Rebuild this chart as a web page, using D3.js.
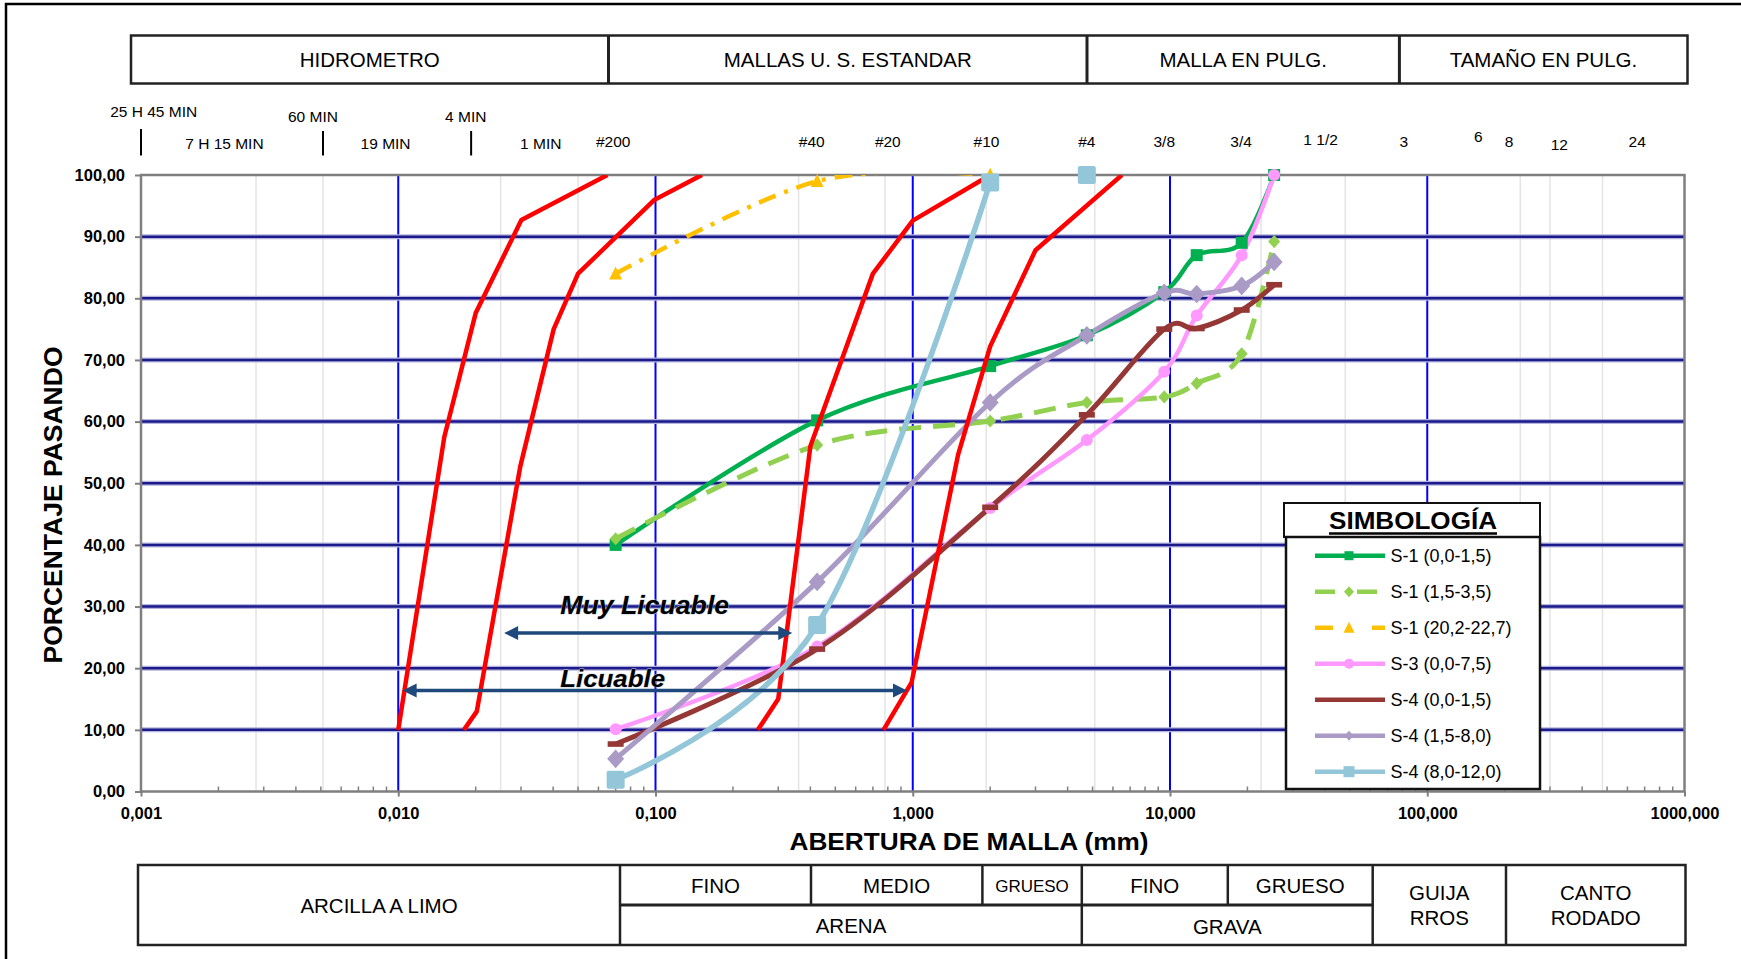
<!DOCTYPE html>
<html>
<head>
<meta charset="utf-8">
<script src="https://cdn.jsdelivr.net/npm/d3@7"></script>
<style>
  body { margin: 0; background: #fff; }
  svg { display: block; }
  text { font-family: "Liberation Sans", Arial, sans-serif; fill: #000; }
</style>
</head>
<body>
<svg id="chart" width="1741" height="959"></svg>
<script>
// ---------- sieve analysis data (percent passing) ----------
const sieveMm   = [0.07, 0.425, 2.0, 4.75, 9.5, 12.7, 19.0, 25.4];
const s1Top     = [40.0, 60.2, 69.0, 74.0, 81.0, 87.0, 89.0, 100.0];
const s1Mid     = [41.0, 56.2, 60.1, 63.1, 64.0, 66.2, 71.0, 89.2];
const s1Deep    = [84.0, 99.0, 100.0, null, null, null, null, null];
const s3Top     = [10.1, 23.5, 46.0, 57.0, 68.1, 77.2, 87.0, 100.0];
const s4Top     = [7.7, 23.1, 46.1, 61.1, 75.0, 75.1, 78.1, 82.2];
const s4Mid     = [5.3, 34.0, 63.1, 74.0, 80.9, 80.7, 82.0, 85.9];
const s4Deep    = [1.9, 27.0, 98.8, 100.0, null, null, null, null];
const seriesNames = ["S-1 (0,0-1,5)", "S-1 (1,5-3,5)", "S-1 (20,2-22,7)", "S-3 (0,0-7,5)",
                     "S-4 (0,0-1,5)", "S-4 (1,5-8,0)", "S-4 (8,0-12,0)"];

// ---------- liquefaction boundary curves ----------
const licFineMm       = [0.0100, 0.0151, 0.0200, 0.0301, 0.065];
const licFinePct      = [10, 57.5, 77.6, 92.7, 100];
const muyFineMm       = [0.018, 0.0202, 0.0298, 0.0402, 0.050, 0.0992, 0.1515];
const muyFinePct      = [10, 13, 52.7, 75, 84, 96, 100];
const muyCoarseMm     = [0.25, 0.30, 0.40, 0.70, 1.0, 2.0];
const muyCoarsePct    = [10, 15, 56, 84, 92.6, 100];
const licCoarseMm     = [0.77, 0.99, 1.5, 2.0, 3.0, 6.5];
const licCoarsePct    = [10, 17.7, 54.6, 72.2, 87.8, 100];

// ranges marked with arrows
const rangeLabels  = ["Muy Licuable", "Licuable"];
const rangeFromMm  = [0.0258, 0.0104];
const rangeToMm    = [0.34, 0.95];
const rangePct     = [25.7, 16.4];
const rangeTextMm  = [0.0426, 0.0426];
const rangeTextPct = [28.8, 17.0];

// ---------- axis / header labels ----------
const yTicks = [0, 10, 20, 30, 40, 50, 60, 70, 80, 90, 100];
const xTicks = [0.001, 0.01, 0.1, 1, 10, 100, 1000];
const headerLabels = ["HIDROMETRO", "MALLAS U. S. ESTANDAR", "MALLA EN PULG.", "TAMAÑO EN PULG."];
const hydroUpper = ["25 H 45 MIN", "60 MIN", "4 MIN"];
const hydroUpperMm = [0.00112, 0.00466, 0.0183];
const hydroLower = ["7 H 15 MIN", "19 MIN", "1 MIN"];
const hydroLowerMm = [0.00211, 0.00893, 0.0358];
const hydroMarkMm = [0.001, 0.0051, 0.0192];
const sieveLabels = ["#200", "#40", "#20", "#10", "#4", "3/8", "3/4", "1 1/2", "3", "6", "8", "12", "24"];
const sieveLabelMm = [0.0685, 0.405, 0.80, 1.936, 4.75, 9.5, 18.9, 38.5, 81, 158, 208, 326, 655];
const faintLineMm = [0.0028, 0.0051, 0.025, 0.050, 0.36, 0.78, 1.93, 5.1, 22.6, 48, 230, 300, 480];

// ---------- layout ----------
const svg = d3.select("#chart");
const plot = { left: 141, right: 1684.5, top: 175, bottom: 791.5 };
const x = d3.scaleLog().domain([0.001, 1000]).range([plot.left, plot.right]);
const y = d3.scaleLinear().domain([0, 100]).range([plot.bottom, plot.top]);
const comma = s => s.replace(".", ",");

// outer frame
svg.append("path").attr("d", "M6,1000 V4 H1800").attr("fill", "none")
   .attr("stroke", "#000").attr("stroke-width", 2.5);

// header band
const headerEdges = [131, 608.5, 1087, 1399.4, 1687.5];
const hdr = svg.append("g");
hdr.append("rect").attr("x", 131).attr("y", 35.5).attr("width", 1687.5 - 131).attr("height", 48)
   .attr("fill", "none").attr("stroke", "#222").attr("stroke-width", 2.5);
headerEdges.slice(1, -1).forEach(e => hdr.append("line").attr("x1", e).attr("x2", e)
   .attr("y1", 35.5).attr("y2", 83.5).attr("stroke", "#222").attr("stroke-width", 3));
headerLabels.forEach((t, i) => hdr.append("text")
   .attr("x", (headerEdges[i] + headerEdges[i + 1]) / 2).attr("y", 67)
   .attr("text-anchor", "middle").attr("font-size", 20.5).text(t));

// hydrometer / sieve reference labels above the plot
const refLabels = svg.append("g").attr("font-size", 15.5);
hydroUpper.forEach((t, i) => refLabels.append("text").attr("x", x(hydroUpperMm[i]))
   .attr("y", i === 0 ? 117 : 121.5).attr("text-anchor", "middle").text(t));
hydroLower.forEach((t, i) => refLabels.append("text").attr("x", x(hydroLowerMm[i]))
   .attr("y", 148.5).attr("text-anchor", "middle").text(t));
hydroMarkMm.forEach((d, i) => refLabels.append("line").attr("x1", x(d)).attr("x2", x(d))
   .attr("y1", i === 0 ? 129 : 131).attr("y2", 155.5).attr("stroke", "#000").attr("stroke-width", 2));
sieveLabels.forEach((t, i) => refLabels.append("text").attr("x", x(sieveLabelMm[i]))
   .attr("y", t === "6" ? 141.5 : t === "12" ? 149.5 : t === "1 1/2" ? 145 : 146.5)
   .attr("text-anchor", "middle").text(t));

// ---------- grid ----------
const grid = svg.append("g");
grid.append("rect").attr("x", plot.left).attr("y", plot.top)
    .attr("width", plot.right - plot.left).attr("height", plot.bottom - plot.top).attr("fill", "#fff");
faintLineMm.forEach(d => grid.append("line").attr("x1", x(d)).attr("x2", x(d))
    .attr("y1", plot.top).attr("y2", plot.bottom).attr("stroke", "#e4e4e4").attr("stroke-width", 1.5));
xTicks.slice(1, -1).forEach(d => grid.append("line").attr("x1", x(d)).attr("x2", x(d))
    .attr("y1", plot.top).attr("y2", plot.bottom).attr("stroke", "#0000ff").attr("stroke-width", 2));
yTicks.slice(1, -1).forEach(v => {
  grid.append("line").attr("x1", plot.left).attr("x2", plot.right).attr("y1", y(v)).attr("y2", y(v))
      .attr("stroke", "#b4b4dc").attr("stroke-width", 5);
  grid.append("line").attr("x1", plot.left).attr("x2", plot.right).attr("y1", y(v)).attr("y2", y(v))
      .attr("stroke", "#1a1a8c").attr("stroke-width", 2.5);
});
grid.append("rect").attr("x", plot.left).attr("y", plot.top)
    .attr("width", plot.right - plot.left).attr("height", plot.bottom - plot.top)
    .attr("fill", "none").attr("stroke", "#7f7f7f").attr("stroke-width", 2.5);

// minor ticks on the bottom axis (inside)
const minor = [];
for (let e = -3; e < 3; e++) for (let k = 2; k <= 9; k++) minor.push(k * Math.pow(10, e));
grid.selectAll(".minor").data(minor).join("line")
    .attr("x1", d => x(d)).attr("x2", d => x(d)).attr("y1", plot.bottom).attr("y2", plot.bottom - 5)
    .attr("stroke", "#7f7f7f").attr("stroke-width", 1.5);

// ---------- axes ----------
const yAxis = svg.append("g").attr("transform", `translate(${plot.left},0)`)
  .call(d3.axisLeft(y).tickValues(yTicks).tickSize(6).tickPadding(10)
        .tickFormat(d => comma(d3.format(".2f")(d))));
const xAxis = svg.append("g").attr("transform", `translate(0,${plot.bottom})`)
  .call(d3.axisBottom(x).tickValues(xTicks).tickSize(5).tickPadding(11)
        .tickFormat(d => comma(d3.format(".3f")(d))));
[yAxis, xAxis].forEach(a => {
  a.select(".domain").remove();
  a.selectAll(".tick line").attr("stroke", "#7f7f7f").attr("stroke-width", 2);
  a.selectAll(".tick text").attr("font-size", 16.5).attr("font-weight", "bold")
   .attr("font-family", "'Liberation Sans', Arial, sans-serif").attr("fill", "#000");
});

svg.append("text").attr("transform", "translate(62,505) rotate(-90)")
   .attr("text-anchor", "middle").attr("font-size", 25).attr("font-weight", "bold")
   .attr("textLength", 317).attr("lengthAdjust", "spacingAndGlyphs").text("PORCENTAJE PASANDO");
svg.append("text").attr("x", 969).attr("y", 850)
   .attr("text-anchor", "middle").attr("font-size", 24.5).attr("font-weight", "bold")
   .attr("textLength", 359).attr("lengthAdjust", "spacingAndGlyphs").text("ABERTURA DE MALLA (mm)");

// ---------- curves ----------
svg.append("clipPath").attr("id", "plotClip").append("rect")
   .attr("x", plot.left).attr("y", plot.top).attr("width", plot.right - plot.left)
   .attr("height", plot.bottom - plot.top);
const layer = svg.append("g");
const lines = layer.append("g").attr("clip-path", "url(#plotClip)");
const marks = layer.append("g");

const smooth = d3.line().x(d => x(d[0])).y(d => y(d[1])).curve(d3.curveCardinal.tension(0));
const straight = d3.line().x(d => x(d[0])).y(d => y(d[1]));

const series = [
  { name: seriesNames[0], values: s1Top,  color: "#00b050", width: 4.5, marker: "square",  size: 12 },
  { name: seriesNames[1], values: s1Mid,  color: "#92d050", width: 5,   marker: "diamond", size: 12, dash: "22,12" },
  { name: seriesNames[2], values: s1Deep, color: "#ffc000", width: 4.5, marker: "triangle", size: 13, dash: "18,9,4,9" },
  { name: seriesNames[3], values: s3Top,  color: "#ff99ff", width: 4.5, marker: "circle",  size: 12 },
  { name: seriesNames[4], values: s4Top,  color: "#953735", width: 5,   marker: "dash",    size: 16 },
  { name: seriesNames[5], values: s4Mid,  color: "#a99ac6", width: 5,   marker: "diamond", size: 17 },
  { name: seriesNames[6], values: s4Deep, color: "#93c6d8", width: 5.5, marker: "square",  size: 18, joined: 3 }
];

function drawMarker(g, kind, cx, cy, s, color) {
  if (kind === "square") {
    g.append("rect").attr("x", cx - s / 2).attr("y", cy - s / 2).attr("width", s).attr("height", s)
     .attr("rx", s > 14 ? 2 : 0).attr("fill", color);
  } else if (kind === "diamond") {
    const h = s * 0.55;
    g.append("path").attr("d", `M${cx},${cy - h} L${cx + s / 2},${cy} L${cx},${cy + h} L${cx - s / 2},${cy} Z`)
     .attr("fill", color);
  } else if (kind === "triangle") {
    g.append("path").attr("d", `M${cx},${cy - s * 0.55} L${cx + s / 2},${cy + s * 0.45} L${cx - s / 2},${cy + s * 0.45} Z`)
     .attr("fill", color);
  } else if (kind === "circle") {
    g.append("circle").attr("cx", cx).attr("cy", cy).attr("r", s / 2).attr("fill", color);
  } else if (kind === "dash") {
    g.append("rect").attr("x", cx - s / 2).attr("y", cy - 2.8).attr("width", s).attr("height", 5.6)
     .attr("fill", color);
  }
}

function drawSeries(sr) {
  const pts = sieveMm.map((m, i) => [m, sr.values[i]]).filter(p => p[1] != null);
  const linked = sr.joined ? pts.slice(0, sr.joined) : pts;
  lines.append("path").attr("d", smooth(linked)).attr("fill", "none")
       .attr("stroke", sr.color).attr("stroke-width", sr.width)
       .attr("stroke-dasharray", sr.dash || null).attr("stroke-linejoin", "round");
  const mg = marks.append("g");
  pts.forEach(p => drawMarker(mg, sr.marker, x(p[0]), y(p[1]), sr.size, sr.color));
}

series.slice(0, 6).forEach(drawSeries);

// boundary curves of liquefiable grading
const bounds = [[licFineMm, licFinePct], [muyFineMm, muyFinePct], [muyCoarseMm, muyCoarsePct], [licCoarseMm, licCoarsePct]];
const boundLayer = layer.append("g").attr("clip-path", "url(#plotClip)");
bounds.forEach(([mm, pct]) => boundLayer.append("path")
  .attr("d", straight(mm.map((m, i) => [m, pct[i]])))
  .attr("fill", "none").attr("stroke", "#ff0000").attr("stroke-width", 4.5).attr("stroke-linejoin", "round"));

// the last series sits above the boundary curves
const lastLines = layer.append("g").attr("clip-path", "url(#plotClip)");
const lastMarks = layer.append("g");
{
  const sr = series[6];
  const pts = sieveMm.map((m, i) => [m, sr.values[i]]).filter(p => p[1] != null);
  lastLines.append("path").attr("d", smooth(pts.slice(0, sr.joined))).attr("fill", "none")
    .attr("stroke", sr.color).attr("stroke-width", sr.width);
  pts.forEach(p => drawMarker(lastMarks, sr.marker, x(p[0]), y(p[1]), sr.size, sr.color));
}

// ---------- range arrows ----------
const arrowColor = "#1f497d";
const arrows = svg.append("g");
rangeLabels.forEach((label, i) => {
  const x0 = x(rangeFromMm[i]), x1 = x(rangeToMm[i]), yy = y(rangePct[i]);
  const head = 14, half = 7;
  arrows.append("line").attr("x1", x0 + head - 2).attr("x2", x1 - head + 2).attr("y1", yy).attr("y2", yy)
        .attr("stroke", arrowColor).attr("stroke-width", 3.5);
  arrows.append("path").attr("d", `M${x0},${yy} L${x0 + head},${yy - half} L${x0 + head},${yy + half} Z`).attr("fill", arrowColor);
  arrows.append("path").attr("d", `M${x1},${yy} L${x1 - head},${yy - half} L${x1 - head},${yy + half} Z`).attr("fill", arrowColor);
  arrows.append("text").attr("x", x(rangeTextMm[i])).attr("y", y(rangeTextPct[i]))
        .attr("font-family", "Lato, 'Open Sans', sans-serif").attr("font-style", "italic").attr("font-weight", "bold")
        .attr("font-size", i === 0 ? 25 : 24).attr("fill", arrowColor)
        .attr("stroke", "#c9d2de").attr("stroke-width", 0.8).attr("paint-order", "stroke")
        .attr("textLength", i === 0 ? 169 : 105).attr("lengthAdjust", "spacingAndGlyphs").text(label);
});

// ---------- legend ----------
const lg = svg.append("g");
lg.append("rect").attr("x", 1284).attr("y", 503).attr("width", 256).attr("height", 34)
  .attr("fill", "#fff").attr("stroke", "#111").attr("stroke-width", 2);
lg.append("rect").attr("x", 1286).attr("y", 537).attr("width", 254).attr("height", 252)
  .attr("fill", "#fff").attr("stroke", "#111").attr("stroke-width", 2.5);
lg.append("text").attr("x", 1413).attr("y", 529).attr("text-anchor", "middle")
  .attr("font-size", 24).attr("font-weight", "bold").attr("textLength", 168)
  .attr("lengthAdjust", "spacingAndGlyphs").text("SIMBOLOGÍA");
lg.append("line").attr("x1", 1329).attr("x2", 1497).attr("y1", 533.5).attr("y2", 533.5)
  .attr("stroke", "#000").attr("stroke-width", 2.5);
const legendDash = [null, "20,22", "18,39,13", null, null, null, null];
const legendSize = [9, 10, 11, 10, 0, 9, 11];
series.forEach((sr, i) => {
  const cy = 555.7 + i * 36;
  lg.append("line").attr("x1", 1315).attr("x2", 1385).attr("y1", cy).attr("y2", cy)
    .attr("stroke", sr.color).attr("stroke-width", 4.5).attr("stroke-dasharray", legendDash[i]);
  if (legendSize[i]) drawMarker(lg, sr.marker, 1349, cy, legendSize[i], sr.color);
  lg.append("text").attr("x", 1390.5).attr("y", cy + 6.5).attr("font-size", 18).text(sr.name);
});

// ---------- soil classification band ----------
const band = svg.append("g");
const bTop = 865, bMid = 905, bBot = 945;
band.append("rect").attr("x", 138).attr("y", bTop).attr("width", 1685.5 - 138).attr("height", bBot - bTop)
    .attr("fill", "none").attr("stroke", "#222").attr("stroke-width", 2.5);
[[620, bTop, bBot], [811, bTop, bMid], [982.4, bTop, bMid], [1081.8, bTop, bBot],
 [1227.8, bTop, bMid], [1372.7, bTop, bBot], [1506, bTop, bBot]]
  .forEach(([xx, a, b]) => band.append("line").attr("x1", xx).attr("x2", xx).attr("y1", a).attr("y2", b)
      .attr("stroke", "#222").attr("stroke-width", 2.5));
band.append("line").attr("x1", 620).attr("x2", 1372.7).attr("y1", bMid).attr("y2", bMid)
    .attr("stroke", "#222").attr("stroke-width", 3);
const bandText = [
  ["ARCILLA A LIMO", 379, 912.5, 20.5], ["FINO", 715.5, 893, 20.5], ["MEDIO", 896.7, 893, 20.5],
  ["GRUESO", 1032, 891.5, 17], ["FINO", 1154.8, 893, 20.5], ["GRUESO", 1300.2, 893, 20.5],
  ["ARENA", 851, 933, 20.5], ["GRAVA", 1227.3, 933.5, 20.5],
  ["GUIJA", 1439.3, 900, 20.5], ["RROS", 1439.3, 925, 20.5],
  ["CANTO", 1595.7, 900, 20.5], ["RODADO", 1595.7, 925, 20.5]
];
bandText.forEach(([t, xx, yy, fs]) => band.append("text").attr("x", xx).attr("y", yy)
    .attr("text-anchor", "middle").attr("font-size", fs).text(t));
</script>
</body>
</html>
